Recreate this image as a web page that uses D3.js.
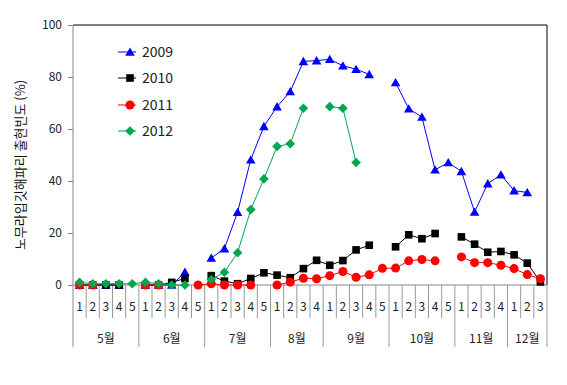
<!DOCTYPE html>
<html>
<head>
<meta charset="utf-8">
<script src="https://cdn.jsdelivr.net/npm/d3@7"></script>
<style>
  body { margin: 0; background: #fff; }
  text { font-family: "Noto Sans CJK KR", "Noto Sans", sans-serif; }
</style>
</head>
<body>
<div id="chart"></div>
<script>
// months and number of weeks shown for each
const months = ['5월', '6월', '7월', '8월', '9월', '10월', '11월', '12월'];
const weeksPerMonth = [5, 5, 5, 4, 5, 5, 4, 3];
const yTicks = [0, 20, 40, 60, 80, 100];

// weekly values (%), null = no survey
const s2009 = [0, 0, 0, 0, null, 0, 0, 0, 5, null,
  10.4, 14, 28, 48.2, 61, 68.6, 74.4, 86, 86.3,
  86.8, 84.3, 83, 81, null, 77.9, 67.8, 64.6, 44.3, 47.1,
  43.7, 28.1, 39, 42.4, 36.3, 35.6, null];
const s2010 = [0, 0, 0, 0, null, 0, 0, 1, 2.5, null,
  3.6, 1.5, 0.5, 2.5, 4.7, 3.8, 2.8, 6.3, 9.5,
  7.6, 9.4, 13.5, 15.3, null, 14.7, 19.3, 17.8, 19.8, null,
  18.5, 15.7, 12.6, 12.9, 11.6, 8.4, 1.2];
const s2011 = [0, 0, null, null, null, 0, 0, null, null, 0,
  0.5, 0, 0, 0, null, 0, 1.1, 2.6, 2.4,
  3.6, 5.2, 3, 3.9, 6.4, 6.5, 9.3, 9.8, 9.3, null,
  10.8, 8.6, 8.6, 7.6, 6.3, 4, 2.4];
const s2012 = [1, 0.5, 0.5, 0.5, 0.5, 1, 0.5, 0, 0, null,
  2.1, 4.9, 12.4, 29, 40.8, 53.3, 54.3, 68, null,
  68.6, 68, 47.1, null, null, null, null, null, null, null,
  null, null, null, null, null, null, null];

const seriesNames = ['2009', '2010', '2011', '2012'];
const seriesData = [s2009, s2010, s2011, s2012];
const colors = ['#0000ff', '#000000', '#ff0000', '#00a651'];
const markers = ['triangle', 'square', 'circle', 'diamond'];

const width = 567, height = 385;
const plotLeft = 73, plotRight = 547, plotTop = 25, plotBottom = 285;

// one category per week
const cats = [];
months.forEach((m, mi) => {
  for (let w = 1; w <= weeksPerMonth[mi]; w++) cats.push({ key: m + w, month: m, week: w });
});

const svg = d3.select('#chart').append('svg')
  .attr('width', width)
  .attr('height', height);

const x = d3.scaleBand().domain(cats.map(d => d.key)).range([plotLeft, plotRight]);
const y = d3.scaleLinear().domain([0, 100]).range([plotBottom, plotTop]);
const cx = k => x(k) + x.bandwidth() / 2;

// frame: grey left/bottom, black top/right
svg.append('line').attr('x1', plotLeft).attr('x2', plotRight).attr('y1', plotTop).attr('y2', plotTop)
  .attr('stroke', '#000').attr('stroke-width', 1);
svg.append('line').attr('x1', plotRight).attr('x2', plotRight).attr('y1', plotTop).attr('y2', plotBottom)
  .attr('stroke', '#000').attr('stroke-width', 1);

// y axis
const yAxis = svg.append('g')
  .attr('transform', `translate(${plotLeft},0)`)
  .call(d3.axisLeft(y).tickValues(yTicks).tickSize(5).tickPadding(6));
yAxis.select('.domain').remove();
yAxis.selectAll('.tick line').attr('stroke', '#888');
yAxis.selectAll('.tick text').attr('font-size', 12).attr('fill', '#222');
svg.append('line').attr('x1', plotLeft).attr('x2', plotLeft).attr('y1', plotTop).attr('y2', 347)
  .attr('stroke', '#888');

// x axis line
svg.append('line').attr('x1', plotLeft).attr('x2', plotRight).attr('y1', plotBottom).attr('y2', plotBottom)
  .attr('stroke', '#888');

// week dividers and labels
cats.forEach((c, i) => {
  const isMonthStart = c.week === 1;
  if (i > 0) {
    svg.append('line')
      .attr('x1', x(c.key)).attr('x2', x(c.key))
      .attr('y1', plotBottom).attr('y2', isMonthStart ? 347 : 318)
      .attr('stroke', '#999');
  }
  svg.append('text')
    .attr('x', cx(c.key)).attr('y', 311)
    .attr('text-anchor', 'middle')
    .attr('font-size', 12).attr('fill', '#222')
    .text(c.week);
});
svg.append('line').attr('x1', plotRight).attr('x2', plotRight).attr('y1', plotBottom).attr('y2', 347)
  .attr('stroke', '#999');

// month labels
months.forEach(m => {
  const ks = cats.filter(c => c.month === m);
  const x0 = x(ks[0].key), x1 = x(ks[ks.length - 1].key) + x.bandwidth();
  svg.append('text')
    .attr('x', (x0 + x1) / 2).attr('y', 343)
    .attr('text-anchor', 'middle')
    .attr('font-size', 12).attr('fill', '#222')
    .text(m);
});

// y axis title
svg.append('text')
  .attr('transform', `translate(25,${(plotTop + plotBottom) / 2 + 10}) rotate(-90)`)
  .attr('text-anchor', 'middle')
  .attr('font-size', 13).attr('fill', '#111')
  .text('노무라입깃해파리 출현빈도 (%)');

function markerPath(type) {
  if (type === 'triangle') return d3.symbol().type(d3.symbolTriangle).size(40)();
  if (type === 'square') return d3.symbol().type(d3.symbolSquare).size(58)();
  if (type === 'circle') return d3.symbol().type(d3.symbolCircle).size(64)();
  const r = 4.8;
  return `M0,${-r}L${r},0L0,${r}L${-r},0Z`;
}

const line = d3.line()
  .defined(d => d.v !== null)
  .x(d => cx(d.k))
  .y(d => y(d.v));

seriesData.forEach((vals, si) => {
  const pts = vals.map((v, i) => ({ k: cats[i].key, v }));
  const g = svg.append('g');
  g.append('path')
    .datum(pts)
    .attr('fill', 'none')
    .attr('stroke', colors[si])
    .attr('stroke-width', 1)
    .attr('d', line);
  const shape = markerPath(markers[si]);
  g.selectAll('path.mk')
    .data(pts.filter(d => d.v !== null))
    .enter().append('path')
    .attr('class', 'mk')
    .attr('d', shape)
    .attr('transform', d => `translate(${cx(d.k)},${y(d.v) + (markers[si] === 'triangle' ? 1 : 0)})`)
    .attr('fill', colors[si]);
});

// legend
const legendY = [52, 78, 105, 131];
seriesNames.forEach((name, si) => {
  const g = svg.append('g').attr('transform', `translate(118,${legendY[si]})`);
  g.append('line').attr('x1', 0).attr('x2', 18).attr('stroke', colors[si]);
  g.append('path').attr('d', markerPath(markers[si]))
    .attr('transform', `translate(12,${markers[si] === 'triangle' ? 1 : 0})`)
    .attr('fill', colors[si]);
  g.append('text').attr('x', 24).attr('y', 5)
    .attr('font-size', 14).attr('fill', '#222')
    .text(name);
});
</script>
</body>
</html>
